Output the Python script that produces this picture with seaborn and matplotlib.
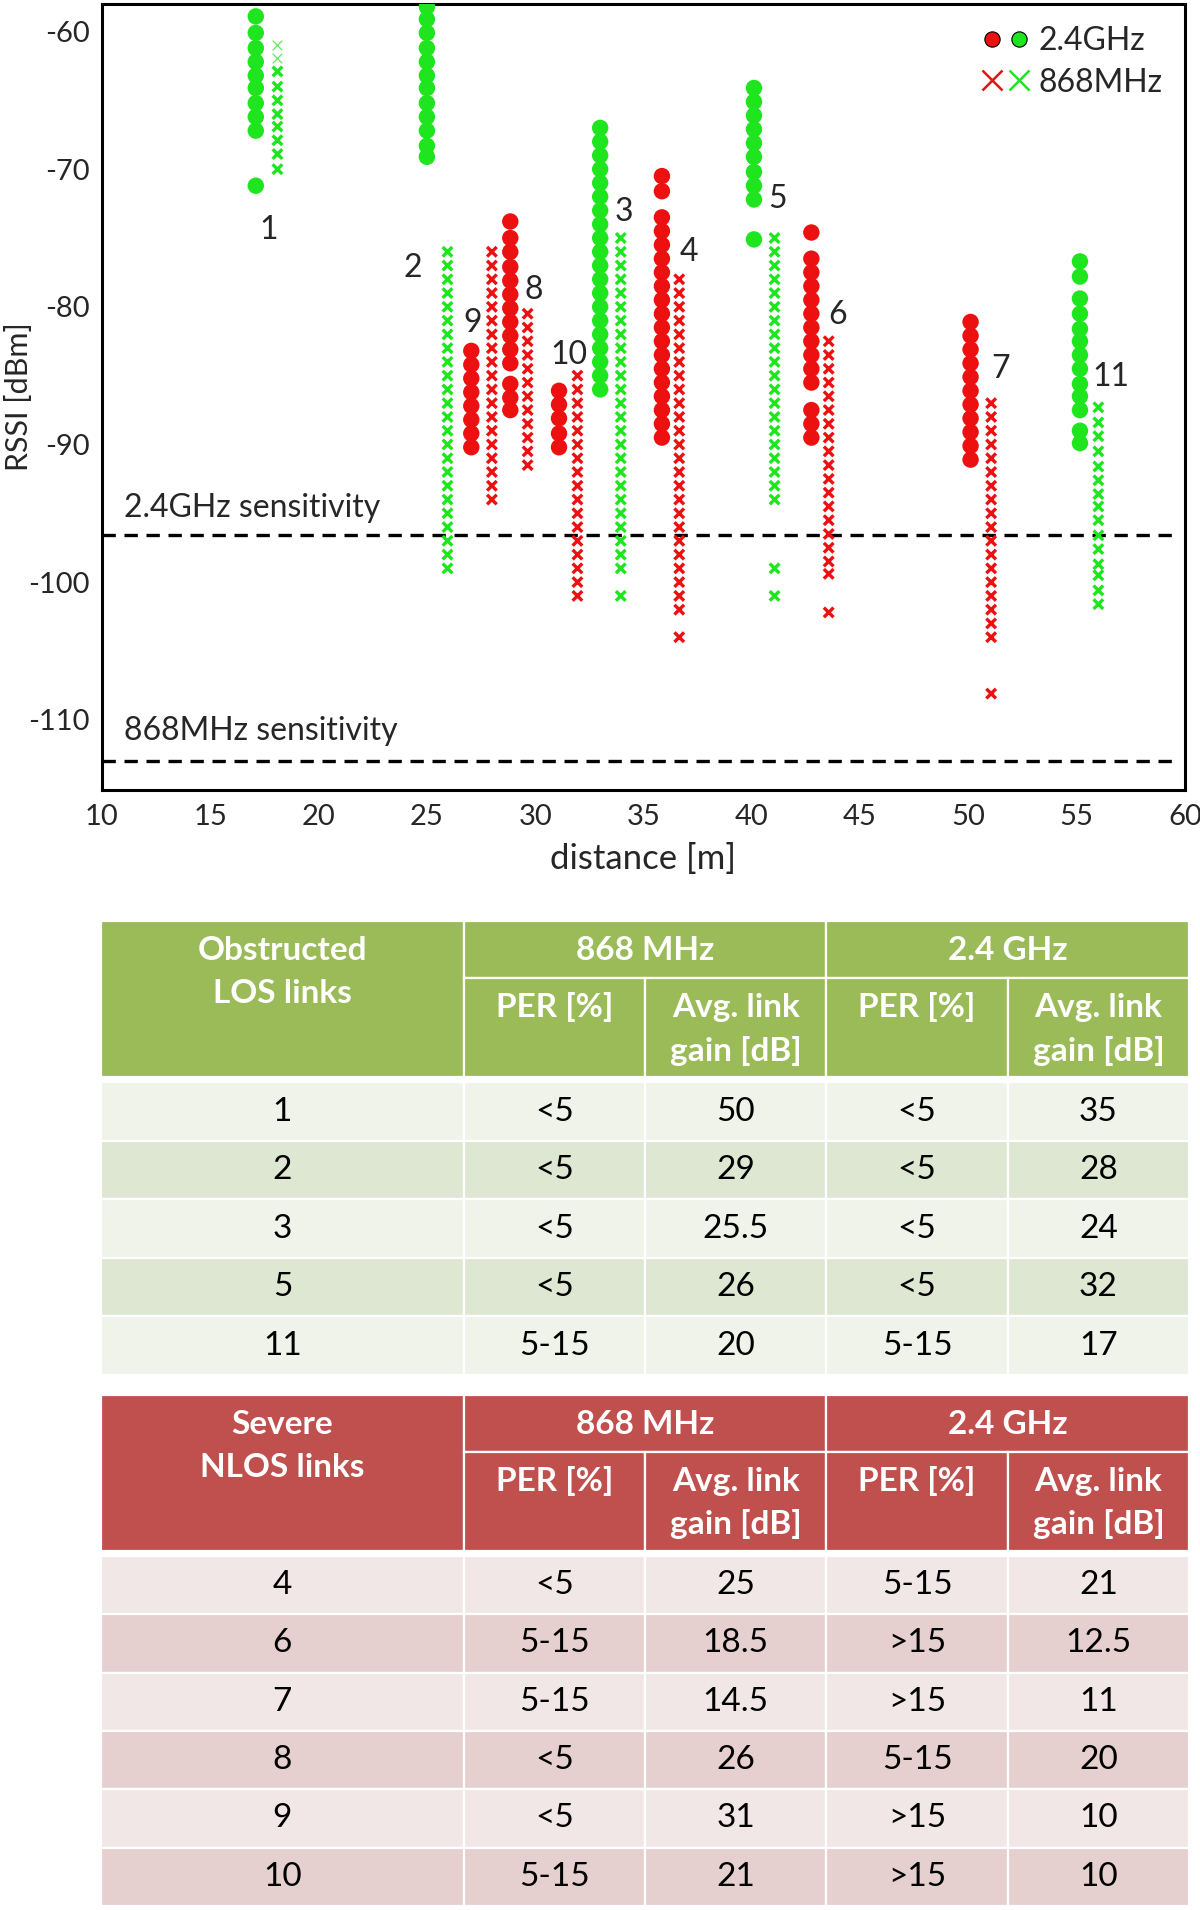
import numpy as np
import pandas as pd
import seaborn as sns
import matplotlib.pyplot as plt
from matplotlib.lines import Line2D
from matplotlib.patches import Rectangle
from matplotlib.legend_handler import HandlerTuple

# ---- scatter data ----
link_names = ["1", "2", "3", "4", "5", "6", "7", "8", "9", "10", "11"]
link_kind = ["LOS", "LOS", "LOS", "NLOS", "LOS", "NLOS", "NLOS", "NLOS", "NLOS", "NLOS", "LOS"]
dist_24 = [17.1, 25.0, 33.0, 35.85, 40.1, 42.75, 50.1, 28.85, 27.05, 31.1, 55.15]
dist_868 = [18.1, 25.95, 33.95, 36.65, 41.05, 43.55, 51.05, 29.65, 28.0, 31.95, 56.0]

# RSSI samples at 2.4GHz, one list per link
rssi_24_l1 = [-58.9, -60.1, -61.2, -62.2, -63.2, -64.1, -65.2, -66.2, -67.2, -71.2]
rssi_24_l2 = [-58.2, -59.1, -60.1, -61.2, -62.2, -63.2, -64.1, -65.2, -66.2, -67.2, -68.3, -69.1]
rssi_24_l3 = [-67, -68, -69, -70, -71, -72, -73, -74, -75, -76, -77, -78, -79, -80,
              -81, -82, -83, -84, -85, -86]
rssi_24_l4 = [-70.5, -71.6, -73.5, -74.5, -75.5, -76.5, -77.5, -78.5, -79.5, -80.5,
              -81.5, -82.5, -83.5, -84.5, -85.5, -86.5, -87.5, -88.5, -89.5]
rssi_24_l5 = [-64.1, -65.1, -66.1, -67.1, -68.1, -69.1, -70.2, -71.2, -72.2, -75.1]
rssi_24_l6 = [-74.6, -76.5, -77.5, -78.5, -79.5, -80.5, -81.5, -82.5, -83.5, -84.5,
              -85.5, -87.5, -88.5, -89.5]
rssi_24_l7 = [-81.1, -82.1, -83.1, -84.1, -85.1, -86.1, -87.1, -88.1, -89.1, -90.1, -91.1]
rssi_24_l8 = [-73.8, -75.0, -76.0, -77.1, -78.1, -79.1, -80.1, -81.1, -82.1, -83.1,
              -84.1, -85.6, -86.6, -87.5]
rssi_24_l9 = [-83.2, -84.2, -85.2, -86.2, -87.2, -88.2, -89.2, -90.2]
rssi_24_l10 = [-86.1, -87.1, -88.1, -89.2, -90.2]
rssi_24_l11 = [-76.7, -77.8, -79.4, -80.5, -81.6, -82.5, -83.5, -84.5, -85.6, -86.5,
               -87.5, -89.0, -89.9]

# RSSI samples at 868MHz, one list per link
rssi_868_l1 = [-62.9, -64.0, -65.0, -66.0, -66.9, -67.9, -68.9, -70.0]
rssi_868_l1_faint = [-61.0, -61.9]
rssi_868_l2 = [-76, -77, -78, -79, -80, -81, -82, -83, -84, -85, -86, -87, -88,
               -89, -90, -91, -92, -93, -94, -95, -96, -97, -98, -99]
rssi_868_l3 = [-75, -76, -77, -78, -79, -80, -81, -82, -83, -84, -85, -86, -87,
               -88, -89, -90, -91, -92, -93, -94, -95, -96, -97, -98, -99, -101]
rssi_868_l4 = [-78, -79, -80, -81, -82, -83, -84, -85, -86, -87, -88, -89, -90,
               -91, -92, -93, -94, -95, -96, -97, -98, -99, -100, -101, -102, -104]
rssi_868_l5 = [-75, -76, -77, -78, -79, -80, -81, -82, -83, -84, -85, -86, -87,
               -88, -89, -90, -91, -92, -93, -94, -99, -101]
rssi_868_l6 = [-82.5, -83.5, -84.5, -85.5, -86.5, -87.5, -88.5, -89.5, -90.5,
               -91.5, -92.5, -93.5, -94.5, -95.5, -96.5, -97.5, -98.5, -99.4, -102.2]
rssi_868_l7 = [-87, -88, -89, -90, -91, -92, -93, -94, -95, -96, -97, -98, -99,
               -100, -101, -102, -103, -104, -108.1]
rssi_868_l8 = [-80.5, -81.5, -82.5, -83.5, -84.5, -85.5, -86.5, -87.5, -88.5,
               -89.5, -90.5, -91.5]
rssi_868_l9 = [-76, -77, -78, -79, -80, -81, -82, -83, -84, -85, -86, -87, -88,
               -89, -90, -91, -92, -93, -94]
rssi_868_l10 = [-85, -86, -87, -88, -89, -90, -91, -92, -93, -94, -95, -96, -97,
                -98, -99, -100, -101]
rssi_868_l11 = [-87.3, -88.4, -89.4, -90.5, -91.6, -92.6, -93.6, -94.5, -95.5,
                -96.6, -97.6, -98.7, -99.5, -100.6, -101.6]

rssi_24 = [rssi_24_l1, rssi_24_l2, rssi_24_l3, rssi_24_l4, rssi_24_l5, rssi_24_l6,
           rssi_24_l7, rssi_24_l8, rssi_24_l9, rssi_24_l10, rssi_24_l11]
rssi_868 = [rssi_868_l1, rssi_868_l2, rssi_868_l3, rssi_868_l4, rssi_868_l5, rssi_868_l6,
            rssi_868_l7, rssi_868_l8, rssi_868_l9, rssi_868_l10, rssi_868_l11]

sens_24 = -96.6
sens_868 = -113.0

# where the link numbers are written
label_x = [17.7, 24.35, 34.1, 37.1, 41.2, 43.95, 51.5, 29.95, 27.1, 31.55, 56.6]
label_y = [-74.4, -77.2, -73.1, -76.0, -72.2, -80.6, -84.5, -78.8, -81.2, -83.5, -85.1]

# ---- table data ----
los_links = ["1", "2", "3", "5", "11"]
los_per_868 = ["<5", "<5", "<5", "<5", "5-15"]
los_gain_868 = ["50", "29", "25.5", "26", "20"]
los_per_24 = ["<5", "<5", "<5", "<5", "5-15"]
los_gain_24 = ["35", "28", "24", "32", "17"]

nlos_links = ["4", "6", "7", "8", "9", "10"]
nlos_per_868 = ["<5", "5-15", "5-15", "<5", "<5", "5-15"]
nlos_gain_868 = ["25", "18.5", "14.5", "26", "31", "21"]
nlos_per_24 = ["5-15", ">15", ">15", "5-15", ">15", ">15"]
nlos_gain_24 = ["21", "12.5", "11", "20", "10", "10"]

GREEN = "#1ee51e"
RED = "#ec1010"
palette = {"LOS": GREEN, "NLOS": RED}

sns.set_theme(style="white")
plt.rcParams["font.family"] = ["Lato", "DejaVu Sans"]
plt.rcParams["axes.unicode_minus"] = False


def long_frame(dists, samples):
    rows = []
    for name, kind, d, vals in zip(link_names, link_kind, dists, samples):
        for v in vals:
            rows.append({"link": name, "kind": kind, "distance": d, "rssi": v})
    return pd.DataFrame(rows)


df24 = long_frame(dist_24, rssi_24)
df868 = long_frame(dist_868, rssi_868)

fig = plt.figure(figsize=(12, 19.1), dpi=100)
ax = fig.add_axes([0.085, 0.5864, 0.9025, 0.4115])

sns.scatterplot(data=df24, x="distance", y="rssi", hue="kind", palette=palette,
                s=140, linewidth=0, marker="o", legend=False, ax=ax, zorder=3)
sns.scatterplot(data=df868, x="distance", y="rssi", hue="kind", palette=palette,
                s=48, linewidth=2.4, marker="x", legend=False, ax=ax, zorder=3)
ax.scatter([dist_868[0]] * len(rssi_868_l1_faint), rssi_868_l1_faint, marker="x",
           s=48, linewidths=0.9, color=GREEN, alpha=0.7, zorder=3)

# sensitivity thresholds
ax.hlines([sens_24, sens_868], 10, 59.4, colors="black", linestyles=(0, (4, 2.6)),
          linewidth=2.4, zorder=2)
ax.text(11.0, sens_24 + 1.35, "2.4GHz sensitivity", fontsize=23, va="baseline")
ax.text(11.0, sens_868 + 1.5, "868MHz sensitivity", fontsize=23, va="baseline")

for name, lx, ly in zip(link_names, label_x, label_y):
    ax.text(lx, ly, name, fontsize=23, ha="center", va="center")

ax.set_xlim(10, 60)
ax.set_ylim(-115.1, -58)
ax.set_xticks(np.arange(10, 61, 5))
ax.set_yticks(np.arange(-110, -59, 10))
ax.tick_params(axis="x", direction="in", length=8, width=1, color="#999999",
               labelsize=21, pad=10, top=False)
ax.tick_params(axis="y", direction="out", length=5, width=1, color="#999999",
               labelsize=21, pad=4, right=False)
ax.set_xlabel("distance [m]", fontsize=25)
ax.xaxis.set_label_coords(0.5, -0.068)
ax.set_ylabel("RSSI [dBm]", fontsize=22)
ax.yaxis.set_label_coords(-0.064, 0.5)
for sp in ax.spines.values():
    sp.set_color("black")
    sp.set_linewidth(2.2)

h24 = (Line2D([], [], marker="o", ls="", mfc=RED, mec="black", mew=0.8, ms=11),
       Line2D([], [], marker="o", ls="", mfc=GREEN, mec="black", mew=0.8, ms=11))
h868 = (Line2D([], [], marker="x", ls="", mec=RED, mew=1.8, ms=14),
        Line2D([], [], marker="x", ls="", mec=GREEN, mew=1.8, ms=14))
ax.legend([h24, h868], ["2.4GHz", "868MHz"], handler_map={tuple: HandlerTuple(ndivide=None, pad=0.1)},
          loc="upper right", frameon=False, fontsize=23, handlelength=1.6,
          handletextpad=0.25, labelspacing=0.35, borderaxespad=0.3)


# ---- tables ----
ROW = 1.0
HEAD1 = 0.976
HEAD = 2.67
GAP = 0.09
col_edges = [0, 2, 3, 4, 5, 6]


def draw_table(tax, title, head_color, light, dark, links, per868, gain868, per24, gain24):
    n = len(links)
    total = HEAD + GAP + n * ROW
    tax.set_xlim(0, 6)
    tax.set_ylim(total, 0)
    tax.axis("off")
    lw = 1.6

    def cell(x0, x1, y0, y1, color):
        tax.add_patch(Rectangle((x0, y0), x1 - x0, y1 - y0, facecolor=color,
                                edgecolor="white", linewidth=lw))

    # header
    cell(0, 2, 0, HEAD, head_color)
    cell(2, 4, 0, HEAD1, head_color)
    cell(4, 6, 0, HEAD1, head_color)
    for c in range(1, 5):
        cell(col_edges[c], col_edges[c + 1], HEAD1, HEAD, head_color)
    hkw = dict(color="white", fontsize=24, fontweight="bold", ha="center", va="center")
    tax.text(1, 0.5, title[0], **hkw)
    tax.text(1, 1.24, title[1], **hkw)
    tax.text(3, 0.5, "868 MHz", **hkw)
    tax.text(5, 0.5, "2.4 GHz", **hkw)
    for cx in (2.5, 4.5):
        tax.text(cx, 1.48, "PER [%]", **hkw)
    for cx in (3.5, 5.5):
        tax.text(cx, 1.48, "Avg. link", **hkw)
        tax.text(cx, 2.22, "gain [dB]", **hkw)

    # body
    columns = [links, per868, gain868, per24, gain24]
    centers = [1, 2.5, 3.5, 4.5, 5.5]
    for i in range(n):
        y0 = HEAD + GAP + i * ROW
        color = light if i % 2 == 0 else dark
        for c in range(5):
            cell(col_edges[c], col_edges[c + 1], y0, y0 + ROW, color)
            tax.text(centers[c], y0 + ROW / 2, columns[c][i], fontsize=24,
                     color="black", ha="center", va="center")


tax1 = fig.add_axes([0.0842, 0.2801, 0.9067, 0.2378])
draw_table(tax1, ["Obstructed", "LOS links"], "#9bbb59", "#eff3ea", "#dee7d1",
           los_links, los_per_868, los_gain_868, los_per_24, los_gain_24)

tax2 = fig.add_axes([0.0842, 0.0021, 0.9067, 0.2676])
draw_table(tax2, ["Severe", "NLOS links"], "#c0504d", "#f2e7e7", "#e6cfcf",
           nlos_links, nlos_per_868, nlos_gain_868, nlos_per_24, nlos_gain_24)

fig.savefig("out.png", dpi=100, facecolor="white")
